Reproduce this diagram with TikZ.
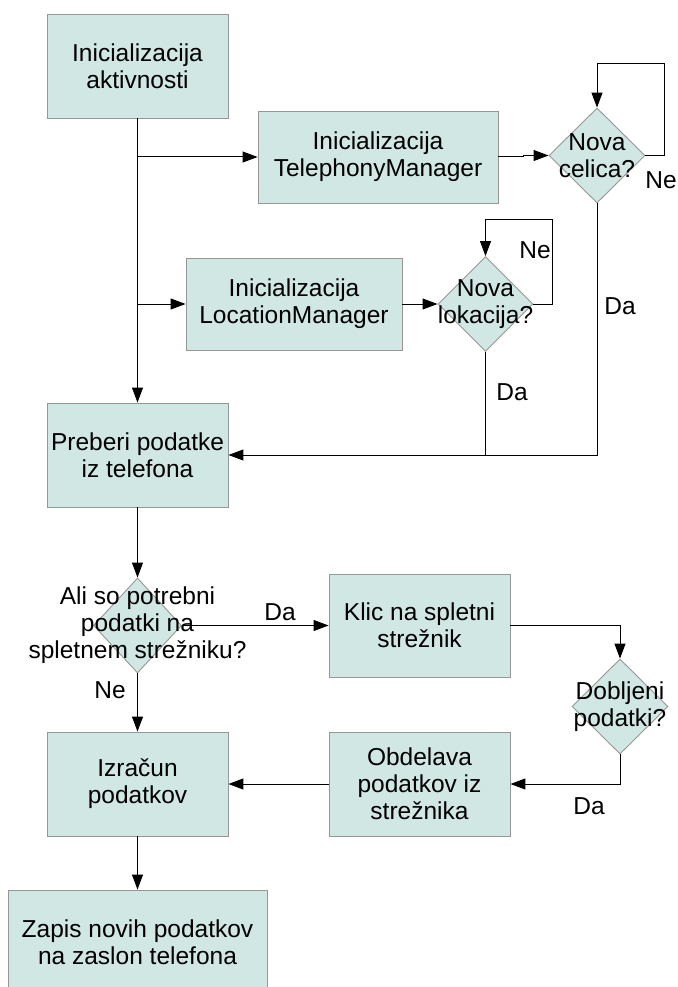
\documentclass[tikz,border=0pt]{standalone}
\usepackage{fontspec}
\setmainfont{Liberation Sans}
\usetikzlibrary{shapes.geometric,arrows.meta}
\definecolor{boxfill}{RGB}{208,231,228}
\definecolor{boxline}{RGB}{150,150,150}
\begin{document}
\begin{tikzpicture}[x=1pt,y=-1pt,
  every node/.style={font=\fontsize{24.5}{27}\selectfont},
  procbox/.style={draw=boxline,fill=boxfill,line width=0.9pt,inner sep=0pt,align=center},
  decision/.style={diamond,draw=boxline,fill=boxfill,line width=0.9pt,inner sep=0pt},
  dtext/.style={align=center,inner sep=0pt},
  arr/.style={line width=1pt,-{Triangle[length=15pt,width=11pt]}},
  conn/.style={line width=1pt},
  lbl/.style={inner sep=0pt}]
\useasboundingbox (0,0) rectangle (677,987);

% process boxes
\node[procbox,minimum width=181,minimum height=104] (b1) at (137.5,66) {Inicializacija\\aktivnosti};
\node[procbox,minimum width=240,minimum height=92] (tm) at (378,157) {Inicializacija\\TelephonyManager};
\node[procbox,minimum width=216,minimum height=92] (lm) at (294,304) {Inicializacija\\LocationManager};
\node[procbox,minimum width=181,minimum height=104] (pr) at (137.5,455) {Preberi podatke\\iz telefona};
\node[procbox,minimum width=181,minimum height=103] (klic) at (419.5,625.5) {Klic na spletni\\strežnik};
\node[procbox,minimum width=181,minimum height=104] (obd) at (419.5,784) {Obdelava\\podatkov iz\\strežnika};
\node[procbox,minimum width=181,minimum height=104] (izr) at (137.5,784) {Izračun\\podatkov};
\node[procbox,minimum width=259,minimum height=104] (zap) at (137.5,942) {Zapis novih podatkov\\na zaslon telefona};

% decisions
\node[decision,minimum width=96,minimum height=95] (d1) at (597,155.5) {};
\node[dtext] at (d1) {Nova\\celica?};
\node[decision,minimum width=95,minimum height=95] (d2) at (485.5,304) {};
\node[dtext] at (d2) {Nova\\lokacija?};
\node[decision,minimum width=88,minimum height=95] (d3) at (137.5,625.5) {};
\node[dtext] at (d3) {Ali so potrebni\\podatki na\\spletnem strežniku?};
\node[decision,minimum width=96,minimum height=95] (d4) at (620,706.5) {};
\node[dtext] at (d4) {Dobljeni\\podatki?};

% main trunk and branches
\draw[arr] (b1.south) -- (pr.north);
\draw[arr] (b1.south |- tm.west) -- (tm.west);
\draw[arr] (b1.south |- lm.west) -- (lm.west);

% telephony branch
\draw[arr] (tm.east) -- ++(25,0) |- (d1.west);
\draw[arr] (d1.east) -- ++(19,0) -- ++(0,-91.5) -| (d1.north);
\draw[arr] (d1.south) |- (pr.east);

% location branch
\draw[arr] (lm.east) -- (d2.west);
\draw[arr] (d2.east) -- ++(19,0) -- ++(0,-85) -| (d2.north);
\draw[conn] (d2.south) -- (d2.south |- pr.east);

% server part
\draw[arr] (pr.south) -- (d3.north);
\draw[arr] (d3.east) -- (klic.west);
\draw[arr] (d3.south) -- (izr.north);
\draw[arr] (klic.east) -| (d4.north);
\draw[arr] (d4.south) |- (obd.east);
\draw[arr] (obd.west) -- (izr.east);
\draw[arr] (izr.south) -- (zap.north);

% branch labels
\node[lbl] (l1) at (661,180) {Ne};
\node[lbl] (l2) at (620,306) {Da};
\node[lbl] (l3) at (535,250) {Ne};
\node[lbl] (l4) at (512,392) {Da};
\node[lbl] (l5) at (280,612) {Da};
\node[lbl] (l6) at (110,690) {Ne};
\node[lbl] (l7) at (589,806) {Da};
\end{tikzpicture}
\end{document}
